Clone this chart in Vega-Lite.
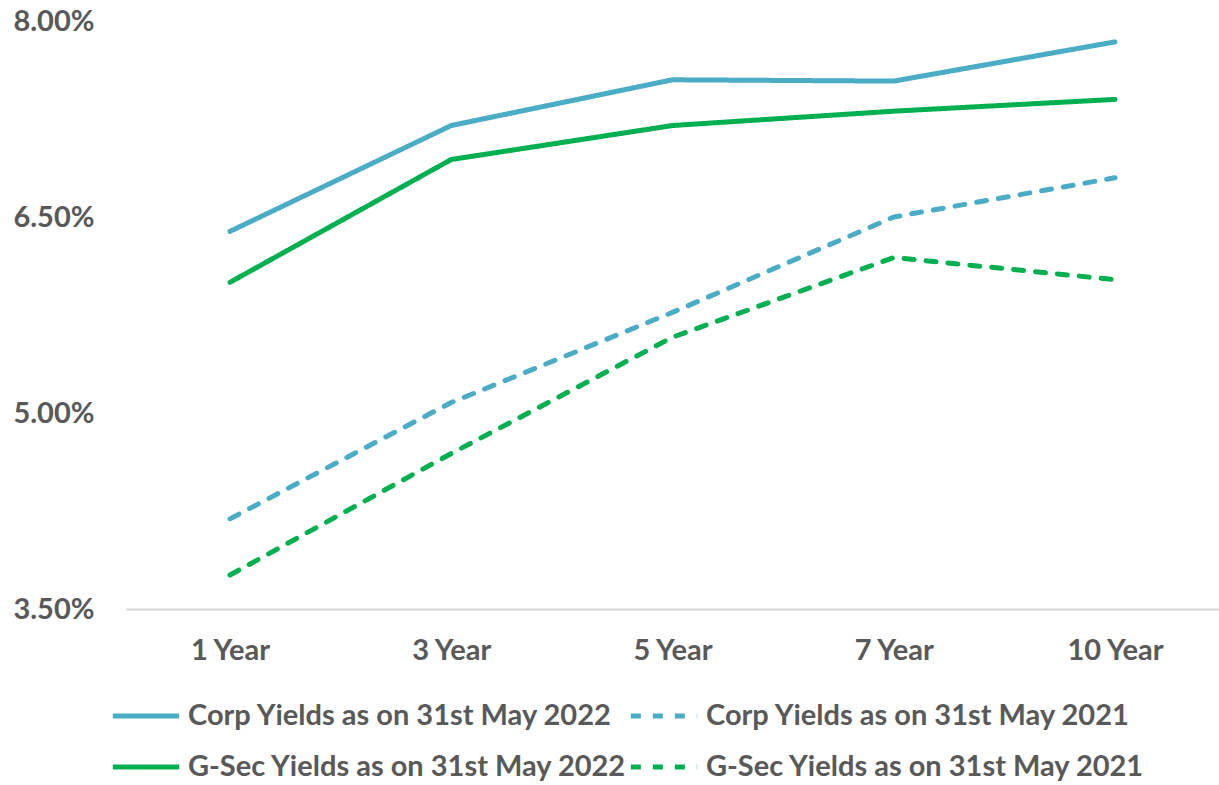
{
  "$schema": "https://vega.github.io/schema/vega-lite/v6.json",
  "width": 1093,
  "height": 588,
  "autosize": "none",
  "padding": {"left": 126, "top": 21, "right": 0, "bottom": 176},
  "background": "white",
  "config": {
    "view": {"stroke": null},
    "font": "Lato"
  },
  "data": {
    "values": [
      {"tenor": "1 Year", "series": "Corp Yields as on 31st May 2022", "yield": 6.39},
      {"tenor": "3 Year", "series": "Corp Yields as on 31st May 2022", "yield": 7.20},
      {"tenor": "5 Year", "series": "Corp Yields as on 31st May 2022", "yield": 7.55},
      {"tenor": "7 Year", "series": "Corp Yields as on 31st May 2022", "yield": 7.54},
      {"tenor": "10 Year", "series": "Corp Yields as on 31st May 2022", "yield": 7.84},
      {"tenor": "1 Year", "series": "Corp Yields as on 31st May 2021", "yield": 4.19},
      {"tenor": "3 Year", "series": "Corp Yields as on 31st May 2021", "yield": 5.08},
      {"tenor": "5 Year", "series": "Corp Yields as on 31st May 2021", "yield": 5.77},
      {"tenor": "7 Year", "series": "Corp Yields as on 31st May 2021", "yield": 6.50},
      {"tenor": "10 Year", "series": "Corp Yields as on 31st May 2021", "yield": 6.80},
      {"tenor": "1 Year", "series": "G-Sec Yields as on 31st May 2022", "yield": 6.00},
      {"tenor": "3 Year", "series": "G-Sec Yields as on 31st May 2022", "yield": 6.94},
      {"tenor": "5 Year", "series": "G-Sec Yields as on 31st May 2022", "yield": 7.20},
      {"tenor": "7 Year", "series": "G-Sec Yields as on 31st May 2022", "yield": 7.31},
      {"tenor": "10 Year", "series": "G-Sec Yields as on 31st May 2022", "yield": 7.40},
      {"tenor": "1 Year", "series": "G-Sec Yields as on 31st May 2021", "yield": 3.76},
      {"tenor": "3 Year", "series": "G-Sec Yields as on 31st May 2021", "yield": 4.69},
      {"tenor": "5 Year", "series": "G-Sec Yields as on 31st May 2021", "yield": 5.58},
      {"tenor": "7 Year", "series": "G-Sec Yields as on 31st May 2021", "yield": 6.19},
      {"tenor": "10 Year", "series": "G-Sec Yields as on 31st May 2021", "yield": 6.02}
    ]
  },
  "mark": {"type": "line", "strokeWidth": 5, "strokeCap": "round", "strokeJoin": "round"},
  "encoding": {
    "x": {
      "field": "tenor",
      "type": "ordinal",
      "sort": ["1 Year", "3 Year", "5 Year", "7 Year", "10 Year"],
      "scale": {"type": "point", "padding": 0.47},
      "axis": {
        "title": null,
        "labelAngle": 0,
        "ticks": false,
        "grid": false,
        "domainColor": "#D9D9D9",
        "domainWidth": 2,
        "labelFont": "Lato",
        "labelFontWeight": "bold",
        "labelFontSize": 29,
        "labelColor": "#595959",
        "labelPadding": 27
      }
    },
    "y": {
      "field": "yield",
      "type": "quantitative",
      "scale": {"domain": [3.5, 8], "nice": false, "zero": false},
      "axis": {
        "title": null,
        "values": [3.5, 5, 6.5, 8],
        "labelExpr": "format(datum.value, '.2f') + '%'",
        "domain": false,
        "ticks": false,
        "grid": false,
        "labelFont": "Lato",
        "labelFontWeight": "bold",
        "labelFontSize": 29,
        "labelColor": "#595959",
        "labelPadding": 32
      }
    },
    "color": {
      "field": "series",
      "type": "nominal",
      "scale": {
        "domain": ["Corp Yields as on 31st May 2022", "Corp Yields as on 31st May 2021", "G-Sec Yields as on 31st May 2022", "G-Sec Yields as on 31st May 2021"],
        "range": ["#4BACC6", "#4BACC6", "#00B050", "#00B050"]
      },
      "legend": {
        "title": null,
        "orient": "none",
        "legendX": -16,
        "legendY": 659,
        "direction": "horizontal",
        "columns": 2,
        "columnPadding": -8,
        "rowPadding": -5,
        "symbolType": "stroke",
        "symbolSize": 4400,
        "symbolStrokeWidth": 5,
        "labelFont": "Lato",
        "labelFontWeight": "bold",
        "labelFontSize": 29,
        "labelColor": "#595959",
        "labelLimit": 700,
        "labelOffset": 6
      }
    },
    "strokeDash": {
      "field": "series",
      "type": "nominal",
      "scale": {
        "domain": ["Corp Yields as on 31st May 2022", "Corp Yields as on 31st May 2021", "G-Sec Yields as on 31st May 2022", "G-Sec Yields as on 31st May 2021"],
        "range": [[1, 0], [10, 12], [1, 0], [10, 12]]
      },
      "legend": {
        "title": null,
        "orient": "none",
        "legendX": -16,
        "legendY": 659,
        "direction": "horizontal",
        "columns": 2,
        "columnPadding": -8,
        "rowPadding": -5,
        "symbolType": "stroke",
        "symbolSize": 4400,
        "symbolStrokeWidth": 5,
        "labelFont": "Lato",
        "labelFontWeight": "bold",
        "labelFontSize": 29,
        "labelColor": "#595959",
        "labelLimit": 700,
        "labelOffset": 6
      }
    }
  }
}
